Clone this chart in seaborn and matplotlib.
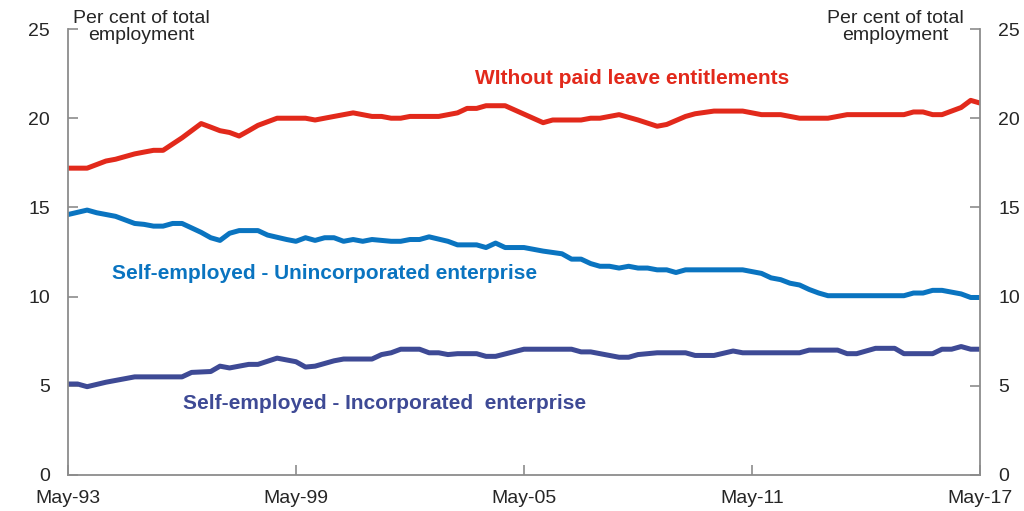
import matplotlib
matplotlib.use("Agg")
import matplotlib.pyplot as plt
import seaborn as sns
import pandas as pd

# ---- data ----
red_dates = ["1993-05", "1993-11", "1994-05", "1994-08", "1995-02", "1995-05", "1995-08", "1995-11",
             "1996-05", "1996-11", "1997-02", "1997-05", "1997-08", "1997-11", "1998-02", "1998-05",
             "1998-11", "1999-08", "1999-11", "2000-05", "2000-11", "2001-05", "2001-08", "2001-11",
             "2002-02", "2002-05", "2003-02", "2003-08", "2003-11", "2004-02", "2004-05", "2004-11",
             "2005-11", "2006-02", "2006-11", "2007-02", "2007-05", "2007-11", "2008-05", "2008-11",
             "2009-02", "2009-08", "2009-11", "2010-05", "2011-02", "2011-08", "2012-02", "2012-08",
             "2013-05", "2013-11", "2015-05", "2015-08", "2015-11", "2016-02", "2016-05", "2016-11",
             "2017-02", "2017-05"]
red_values = [17.2, 17.2, 17.6, 17.7, 18.0, 18.1, 18.2, 18.2,
              18.9, 19.7, 19.5, 19.3, 19.2, 19.0, 19.3, 19.6,
              20.0, 20.0, 19.9, 20.1, 20.3, 20.1, 20.1, 20.0,
              20.0, 20.1, 20.1, 20.3, 20.55, 20.55, 20.7, 20.7,
              19.75, 19.9, 19.9, 20.0, 20.0, 20.2, 19.9, 19.55,
              19.65, 20.1, 20.25, 20.4, 20.4, 20.2, 20.2, 20.0,
              20.0, 20.2, 20.2, 20.35, 20.35, 20.2, 20.2, 20.6,
              21.0, 20.85]

blue_dates = ["1993-05", "1993-11", "1994-02", "1994-08", "1995-02", "1995-05", "1995-08", "1995-11",
              "1996-02", "1996-05", "1996-11", "1997-02", "1997-05", "1997-08", "1997-11", "1998-05",
              "1998-08", "1999-02", "1999-05", "1999-08", "1999-11", "2000-02", "2000-05", "2000-08",
              "2000-11", "2001-02", "2001-05", "2001-11", "2002-02", "2002-05", "2002-08", "2002-11",
              "2003-05", "2003-08", "2004-02", "2004-05", "2004-08", "2004-11", "2005-05", "2005-11",
              "2006-05", "2006-08", "2006-11", "2007-02", "2007-05", "2007-08", "2007-11", "2008-02",
              "2008-05", "2008-08", "2008-11", "2009-02", "2009-05", "2009-08", "2011-02", "2011-08",
              "2011-11", "2012-02", "2012-05", "2012-08", "2012-11", "2013-02", "2013-05", "2015-05",
              "2015-08", "2015-11", "2016-02", "2016-05", "2016-11", "2017-02", "2017-05"]
blue_values = [14.6, 14.85, 14.7, 14.5, 14.1, 14.05, 13.95, 13.95,
               14.1, 14.1, 13.6, 13.3, 13.15, 13.55, 13.7, 13.7,
               13.45, 13.2, 13.1, 13.3, 13.15, 13.3, 13.3, 13.1,
               13.2, 13.1, 13.2, 13.1, 13.1, 13.2, 13.2, 13.35,
               13.1, 12.9, 12.9, 12.75, 13.0, 12.75, 12.75, 12.55,
               12.4, 12.1, 12.1, 11.85, 11.7, 11.7, 11.6, 11.7,
               11.6, 11.6, 11.5, 11.5, 11.35, 11.5, 11.5, 11.3,
               11.05, 10.95, 10.75, 10.65, 10.4, 10.2, 10.05, 10.05,
               10.2, 10.2, 10.35, 10.35, 10.15, 9.95, 9.95]

purple_dates = ["1993-05", "1993-08", "1993-11", "1994-05", "1995-02", "1996-05", "1996-08", "1997-02",
                "1997-05", "1997-08", "1998-02", "1998-05", "1998-11", "1999-05", "1999-08", "1999-11",
                "2000-05", "2000-08", "2001-05", "2001-08", "2001-11", "2002-02", "2002-08", "2002-11",
                "2003-02", "2003-05", "2003-08", "2004-02", "2004-05", "2004-08", "2005-05", "2006-08",
                "2006-11", "2007-02", "2007-11", "2008-02", "2008-05", "2008-11", "2009-08", "2009-11",
                "2010-05", "2010-11", "2011-02", "2012-08", "2012-11", "2013-08", "2013-11", "2014-02",
                "2014-08", "2015-02", "2015-05", "2016-02", "2016-05", "2016-08", "2016-11", "2017-02",
                "2017-05"]
purple_values = [5.1, 5.1, 4.95, 5.2, 5.5, 5.5, 5.75, 5.8,
                 6.1, 6.0, 6.2, 6.2, 6.55, 6.35, 6.05, 6.1,
                 6.4, 6.5, 6.5, 6.75, 6.85, 7.05, 7.05, 6.85,
                 6.85, 6.75, 6.8, 6.8, 6.65, 6.65, 7.05, 7.05,
                 6.9, 6.9, 6.6, 6.6, 6.75, 6.85, 6.85, 6.7,
                 6.7, 6.95, 6.85, 6.85, 7.0, 7.0, 6.8, 6.8,
                 7.1, 7.1, 6.8, 6.8, 7.05, 7.05, 7.2, 7.05,
                 7.05]

series_names = ["WIthout paid leave entitlements",
                "Self-employed - Unincorporated enterprise",
                "Self-employed - Incorporated  enterprise"]
series_colors = ["#E2291B", "#0A74C0", "#3E4A95"]
x_tick_labels = ["May-93", "May-99", "May-05", "May-11", "May-17"]
y_ticks = [0, 5, 10, 15, 20, 25]
axis_title = "Per cent of total\nemployment"

# ---- build long-form table ----
frames = []
for name, d, v in zip(series_names,
                      [red_dates, blue_dates, purple_dates],
                      [red_values, blue_values, purple_values]):
    frames.append(pd.DataFrame({"date": pd.to_datetime(d), "value": v, "series": name}))
df = pd.concat(frames, ignore_index=True)

sns.set_theme(style="white")
plt.rcParams["font.family"] = ["Liberation Sans", "DejaVu Sans"]

fig = plt.figure(figsize=(10.24, 5.11), dpi=100)
ax = fig.add_axes([0.0664, 0.0705, 0.8906, 0.8727])

sns.lineplot(data=df, x="date", y="value", hue="series",
             palette=dict(zip(series_names, series_colors)),
             linewidth=3.6, legend=False, ax=ax, sort=True)

ax.set_xlim(pd.Timestamp("1993-05-01"), pd.Timestamp("2017-05-01"))
ax.set_ylim(0, 25)
ticks = pd.to_datetime(["1993-05-01", "1999-05-01", "2005-05-01", "2011-05-01", "2017-05-01"])
ax.set_xticks(ticks)
ax.set_xticklabels(x_tick_labels)
ax.set_yticks(y_ticks)
ax.set_xlabel("")
ax.set_ylabel("")

spine_col = "#8C8C8C"
for s in ["left", "right", "bottom"]:
    ax.spines[s].set_visible(True)
    ax.spines[s].set_color(spine_col)
    ax.spines[s].set_linewidth(1.3)
ax.spines["top"].set_visible(False)

tick_font = ["Liberation Sans Narrow", "Liberation Sans", "DejaVu Sans"]
ax.tick_params(axis="y", which="both", direction="in", length=7, width=1.2, color=spine_col,
               left=True, right=True, labelleft=True, labelright=True, labelsize=14, pad=13)
ax.tick_params(axis="x", direction="in", length=7, width=1.2, color=spine_col,
               bottom=True, labelsize=14, pad=11)
for t in ax.yaxis.get_major_ticks():
    t.label1.set_family(tick_font)
    t.label2.set_family(tick_font)
for lab in ax.get_xticklabels():
    lab.set_family(tick_font)

# axis title texts
ax.text(0.08, 1.042, axis_title, transform=ax.transAxes, ha="center", va="top",
        fontsize=14, family=tick_font, linespacing=0.95)
ax.text(0.907, 1.042, axis_title, transform=ax.transAxes, ha="center", va="top",
        fontsize=14, family=tick_font, linespacing=0.95)

# series annotations
ax.text(pd.Timestamp("2008-03-01"), 22.25, series_names[0], color=series_colors[0],
        fontsize=15, fontweight="bold", ha="center", va="center")
ax.text(pd.Timestamp("2000-02-01"), 11.3, series_names[1], color=series_colors[1],
        fontsize=15, fontweight="bold", ha="center", va="center")
ax.text(pd.Timestamp("2001-09-01"), 4.0, series_names[2], color=series_colors[2],
        fontsize=15, fontweight="bold", ha="center", va="center")

fig.savefig("out.png", dpi=100)
